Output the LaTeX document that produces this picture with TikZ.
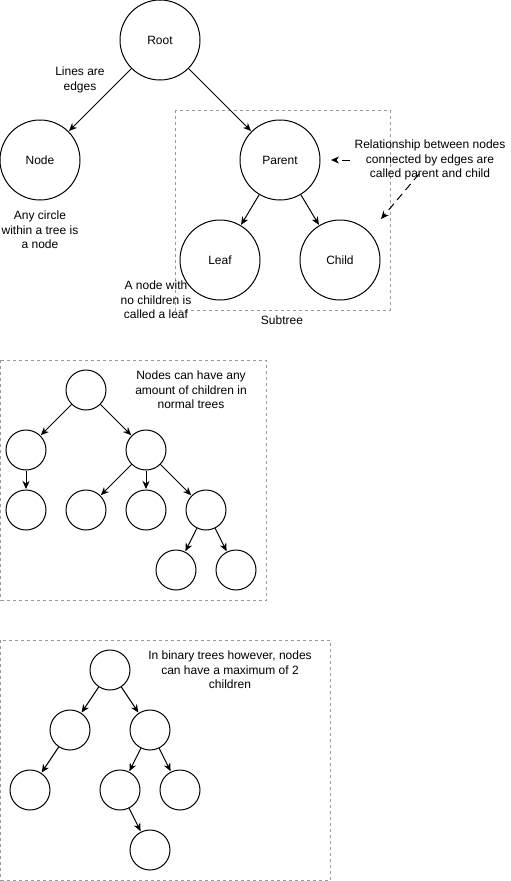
\documentclass[tikz,border=0pt]{standalone}
\usepackage{fontspec}
\setmainfont{Liberation Sans}
\usetikzlibrary{arrows.meta}
\begin{document}
\begin{tikzpicture}[x=1pt,y=-1pt,
  bignode/.style={circle,draw,line width=1pt,minimum size=80pt,inner sep=0pt,font=\fontsize{12}{14}\selectfont},
  smallnode/.style={circle,draw,line width=1pt,minimum size=40pt,inner sep=0pt},
  edge/.style={line width=1pt,-{Stealth[length=8pt,width=7pt,inset=2.5pt]},shorten >=0.5pt},
  note/.style={align=center,font=\fontsize{12}{14.3}\selectfont,inner sep=0pt},
  dashbox/.style={draw=black!40,dash pattern=on 3pt off 3pt,line width=0.8pt},
  hint/.style={line width=1pt,dash pattern=on 8pt off 5pt,-{Stealth[length=8pt,width=7pt,inset=2.5pt]}}
]
\useasboundingbox (0,0) rectangle (511,881);

% ---- section 1 ----
\draw[dashbox] (175,110) rectangle (390,310);
\node[bignode] (root) at (160,40) {Root};
\node[bignode] (node) at (40,160) {Node};
\node[bignode] (parent) at (280,160) {Parent};
\node[bignode] (leaf) at (220,260) {Leaf};
\node[bignode] (child) at (340,260) {Child};
\draw[edge] (root) -- (node);
\draw[edge] (root) -- (parent);
\draw[edge] (parent) -- (leaf);
\draw[edge] (parent) -- (child);

\node[note] (t1) at (80,80) {Lines are\\edges};
\node[note] (t2) at (40,230) {Any circle\\within a tree is\\a node};
\node[note] (t3) at (156,300) {A node with\\no children is\\called a leaf};
\node[note] (t4) at (282,320) {Subtree};
\node[note] (t5) at (430,160) {Relationship between nodes\\connected by edges are\\called parent and child};

\coordinate (h1s) at (350,160);
\coordinate (h1e) at (331,160);
\coordinate (h2s) at (419,174);
\coordinate (h2e) at (381,219);
\draw[hint] (h1s) -- (h1e);
\draw[hint] (h2s) -- (h2e);

% ---- section 2 ----
\draw[dashbox] (0.5,360) rectangle (266,600);
\node[note] (t6) at (191,390) {Nodes can have any\\amount of children in\\normal trees};
\node[smallnode] (a) at (86,390) {};
\node[smallnode] (b) at (26,450) {};
\node[smallnode] (c) at (146,450) {};
\node[smallnode] (d) at (26,510) {};
\node[smallnode] (e) at (86,510) {};
\node[smallnode] (f) at (146,510) {};
\node[smallnode] (g) at (206,510) {};
\node[smallnode] (h) at (176,570) {};
\node[smallnode] (i) at (236,570) {};
\draw[edge] (a) -- (b);
\draw[edge] (a) -- (c);
\draw[edge] (b) -- (d);
\draw[edge] (c) -- (e);
\draw[edge] (c) -- (f);
\draw[edge] (c) -- (g);
\draw[edge] (g) -- (h);
\draw[edge] (g) -- (i);

% ---- section 3 ----
\draw[dashbox] (0.5,640) rectangle (330,880);
\node[note] (t7) at (230,670) {In binary trees however, nodes\\can have a maximum of 2\\children};
\node[smallnode] (p) at (110,670) {};
\node[smallnode] (q) at (70,730) {};
\node[smallnode] (r) at (150,730) {};
\node[smallnode] (s) at (30,790) {};
\node[smallnode] (u) at (120,790) {};
\node[smallnode] (v) at (180,790) {};
\node[smallnode] (w) at (150,850) {};
\draw[edge] (p) -- (q);
\draw[edge] (p) -- (r);
\draw[edge] (q) -- (s);
\draw[edge] (r) -- (u);
\draw[edge] (r) -- (v);
\draw[edge] (u) -- (w);
\end{tikzpicture}
\end{document}
